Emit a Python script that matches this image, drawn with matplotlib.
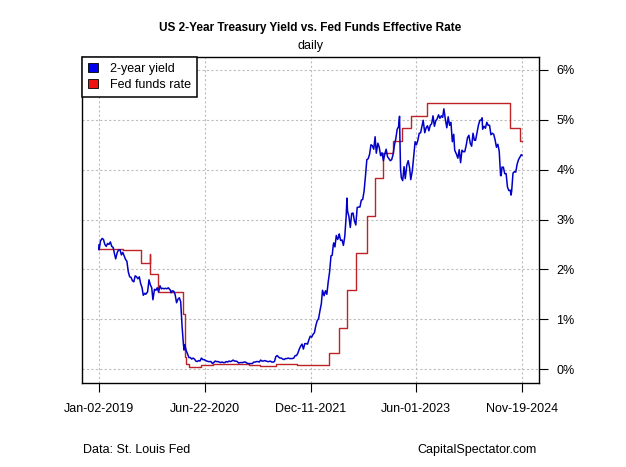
import matplotlib
matplotlib.use("Agg")
import matplotlib.pyplot as plt
import matplotlib.dates as mdates
from matplotlib.patches import Patch
import numpy as np
import pandas as pd

plt.rcParams['font.family'] = ['Liberation Sans', 'DejaVu Sans']

# ---------------- data ----------------
yield_dates = [
    "2019-01-02","2019-01-03","2019-01-10","2019-01-18","2019-01-25","2019-02-01","2019-02-08","2019-02-15",
    "2019-02-22","2019-03-01","2019-03-08","2019-03-15","2019-03-22","2019-03-28","2019-04-05","2019-04-12",
    "2019-04-19","2019-04-26","2019-05-03","2019-05-10","2019-05-17","2019-05-24","2019-05-31","2019-06-07",
    "2019-06-14","2019-06-21","2019-06-28","2019-07-05","2019-07-12","2019-07-19","2019-07-26","2019-08-02",
    "2019-08-09","2019-08-15","2019-08-23","2019-08-28","2019-09-06","2019-09-13","2019-09-20","2019-09-27",
    "2019-10-03","2019-10-11","2019-10-18","2019-10-25","2019-11-01","2019-11-08","2019-11-15","2019-11-22",
    "2019-11-29","2019-12-06","2019-12-13","2019-12-20","2019-12-31",
    "2020-01-03","2020-01-10","2020-01-17","2020-01-24","2020-01-31","2020-02-07","2020-02-14","2020-02-21",
    "2020-02-28","2020-03-06","2020-03-09","2020-03-13","2020-03-20","2020-03-27","2020-04-03","2020-04-10",
    "2020-04-17","2020-04-24","2020-05-01","2020-05-08","2020-05-15","2020-05-22","2020-05-29","2020-06-05",
    "2020-06-12","2020-06-19","2020-06-26","2020-07-03","2020-07-10","2020-07-17","2020-07-24","2020-07-31",
    "2020-08-07","2020-08-14","2020-08-21","2020-08-28","2020-09-04","2020-09-11","2020-09-18","2020-09-25",
    "2020-10-02","2020-10-09","2020-10-16","2020-10-23","2020-10-30","2020-11-06","2020-11-13","2020-11-20",
    "2020-11-27","2020-12-04","2020-12-11","2020-12-18","2020-12-31",
    "2021-01-08","2021-01-15","2021-01-22","2021-01-29","2021-02-05","2021-02-12","2021-02-19","2021-02-26",
    "2021-03-05","2021-03-12","2021-03-19","2021-03-26","2021-04-02","2021-04-09","2021-04-16","2021-04-23",
    "2021-04-30","2021-05-07","2021-05-14","2021-05-21","2021-05-28","2021-06-04","2021-06-11","2021-06-18",
    "2021-06-25","2021-07-02","2021-07-09","2021-07-16","2021-07-23","2021-07-30","2021-08-06","2021-08-13",
    "2021-08-20","2021-08-27","2021-09-03","2021-09-10","2021-09-17","2021-09-24","2021-10-01","2021-10-08",
    "2021-10-15","2021-10-22","2021-10-29","2021-11-05","2021-11-12","2021-11-19","2021-11-26","2021-12-03",
    "2021-12-10","2021-12-17","2021-12-23","2021-12-31",
    "2022-01-07","2022-01-14","2022-01-21","2022-01-28","2022-02-04","2022-02-10","2022-02-18","2022-02-25",
    "2022-03-04","2022-03-11","2022-03-18","2022-03-25","2022-03-31","2022-04-06","2022-04-08","2022-04-14",
    "2022-04-21","2022-04-28","2022-05-04","2022-05-06","2022-05-13","2022-05-20","2022-05-27","2022-06-03",
    "2022-06-10","2022-06-14","2022-06-17","2022-06-24","2022-07-01","2022-07-08","2022-07-15","2022-07-22",
    "2022-07-29","2022-08-05","2022-08-12","2022-08-19","2022-08-26","2022-09-02","2022-09-09","2022-09-16",
    "2022-09-23","2022-09-30","2022-10-07","2022-10-14","2022-10-21","2022-10-28","2022-11-04","2022-11-10",
    "2022-11-18","2022-11-25","2022-12-02","2022-12-09","2022-12-16","2022-12-23","2022-12-30",
    "2023-01-06","2023-01-13","2023-01-20","2023-01-27","2023-02-03","2023-02-10","2023-02-17","2023-02-24",
    "2023-03-03","2023-03-08","2023-03-10","2023-03-13","2023-03-17","2023-03-24","2023-03-31","2023-04-06",
    "2023-04-14","2023-04-21","2023-04-28","2023-05-04","2023-05-12","2023-05-19","2023-05-26","2023-06-02",
    "2023-06-09","2023-06-16","2023-06-23","2023-06-30","2023-07-06","2023-07-14","2023-07-21","2023-07-28",
    "2023-08-04","2023-08-11","2023-08-18","2023-08-25","2023-09-01","2023-09-08","2023-09-15","2023-09-22",
    "2023-09-29","2023-10-06","2023-10-13","2023-10-19","2023-10-27","2023-11-03","2023-11-10","2023-11-17",
    "2023-11-24","2023-12-01","2023-12-08","2023-12-13","2023-12-22","2023-12-29",
    "2024-01-05","2024-01-12","2024-01-19","2024-01-26","2024-02-02","2024-02-09","2024-02-16","2024-02-23",
    "2024-03-01","2024-03-08","2024-03-15","2024-03-22","2024-03-28","2024-04-05","2024-04-12","2024-04-19",
    "2024-04-26","2024-04-30","2024-05-03","2024-05-10","2024-05-17","2024-05-24","2024-05-31","2024-06-07",
    "2024-06-14","2024-06-21","2024-06-28","2024-07-05","2024-07-12","2024-07-19","2024-07-26","2024-08-02",
    "2024-08-05","2024-08-09","2024-08-16","2024-08-23","2024-08-30","2024-09-06","2024-09-13","2024-09-20",
    "2024-09-24","2024-09-27","2024-10-04","2024-10-11","2024-10-18","2024-10-25","2024-11-01","2024-11-08",
    "2024-11-15","2024-11-19",
]
yield_values = [
    2.49,2.39,2.57,2.62,2.60,2.50,2.46,2.52,
    2.50,2.55,2.46,2.44,2.31,2.21,2.34,2.39,
    2.39,2.29,2.34,2.27,2.20,2.16,1.95,1.85,
    1.84,1.77,1.75,1.87,1.85,1.81,1.85,1.71,
    1.63,1.48,1.52,1.50,1.55,1.79,1.69,1.63,
    1.39,1.60,1.58,1.63,1.55,1.67,1.61,1.62,
    1.61,1.62,1.61,1.63,1.58,
    1.53,1.57,1.56,1.49,1.33,1.40,1.43,1.35,
    0.86,0.49,0.38,0.49,0.37,0.30,0.23,0.23,
    0.20,0.22,0.20,0.16,0.15,0.17,0.16,0.22,
    0.19,0.19,0.17,0.16,0.15,0.15,0.15,0.11,
    0.13,0.16,0.15,0.15,0.14,0.13,0.14,0.13,
    0.13,0.15,0.14,0.16,0.15,0.16,0.18,0.16,
    0.16,0.15,0.12,0.13,0.13,
    0.14,0.14,0.12,0.11,0.11,0.11,0.11,0.14,
    0.14,0.15,0.15,0.14,0.18,0.16,0.16,0.17,
    0.16,0.15,0.15,0.16,0.14,0.14,0.15,0.25,
    0.27,0.24,0.22,0.22,0.20,0.19,0.21,0.21,
    0.22,0.21,0.21,0.21,0.22,0.27,0.27,0.32,
    0.40,0.46,0.50,0.40,0.51,0.51,0.50,0.59,
    0.66,0.64,0.69,0.73,
    0.87,0.97,1.01,1.17,1.31,1.58,1.47,1.57,
    1.50,1.75,1.95,2.27,2.28,2.50,2.53,2.45,
    2.68,2.60,2.66,2.71,2.58,2.59,2.48,2.66,
    3.06,3.43,3.17,3.06,2.84,3.12,3.13,2.97,
    2.89,3.24,3.25,3.25,3.39,3.40,3.57,3.87,
    4.20,4.22,4.31,4.50,4.48,4.41,4.66,4.33,
    4.53,4.45,4.28,4.34,4.18,4.31,4.41,
    4.26,4.22,4.18,4.20,4.30,4.49,4.62,4.81,
    4.86,5.07,4.60,4.03,3.84,3.78,4.06,3.82,
    4.09,4.18,4.04,3.80,3.98,4.28,4.56,4.50,
    4.59,4.73,4.74,4.87,4.99,4.74,4.84,4.88,
    4.78,4.89,4.92,5.08,4.87,4.98,5.02,5.10,
    5.03,5.08,5.05,5.22,5.00,4.84,5.06,4.89,
    4.95,4.56,4.71,4.39,4.31,4.23,
    4.40,4.14,4.39,4.36,4.36,4.48,4.64,4.69,
    4.53,4.47,4.73,4.59,4.59,4.75,4.90,4.99,
    5.00,5.04,4.81,4.87,4.83,4.95,4.89,4.89,
    4.70,4.73,4.71,4.60,4.45,4.51,4.37,3.88,
    3.88,4.05,4.05,3.92,3.92,3.65,3.58,3.59,
    3.49,3.56,3.93,3.96,3.95,4.11,4.20,4.25,
    4.30,4.29,
]

ff_dates = [
    "2019-01-02","2019-05-02","2019-06-20","2019-08-01","2019-09-17","2019-09-18","2019-09-19","2019-10-31",
    "2020-03-04","2020-03-16","2020-03-18","2020-04-01","2020-06-01","2020-08-01","2021-02-01","2021-04-01",
    "2021-06-17","2021-10-01","2022-01-01","2022-03-17","2022-05-05","2022-06-16","2022-07-28","2022-09-22",
    "2022-11-03","2022-12-15","2023-02-02","2023-03-23","2023-05-04","2023-07-27","2024-09-19","2024-11-08",
    "2024-11-19",
]
ff_values = [
    2.40,2.38,2.38,2.13,2.30,2.25,1.90,1.55,
    1.10,0.25,0.10,0.05,0.08,0.10,0.08,0.07,
    0.10,0.08,0.08,0.33,0.83,1.58,2.33,3.08,
    3.83,4.33,4.58,4.83,5.08,5.33,4.83,4.58,
    4.58,
]

tick_dates = ["2019-01-02","2020-06-22","2021-12-11","2023-06-01","2024-11-19"]
tick_labels = ["Jan-02-2019","Jun-22-2020","Dec-11-2021","Jun-01-2023","Nov-19-2024"]
y_ticks = [0, 1, 2, 3, 4, 5, 6]

# ---------------- plot ----------------
yd = pd.to_datetime(yield_dates)
fd = pd.to_datetime(ff_dates)
td = pd.to_datetime(tick_dates)

fig = plt.figure(figsize=(6.26, 4.67), dpi=100)
ax = fig.add_axes([82/626, 1-383/467, (539-82)/626, (383-57)/467])

blue = "#0000C8"
red = "#BE2328"

ax.plot(yd, yield_values, color=blue, lw=1.1, zorder=3)
ax.plot(fd, ff_values, color=red, lw=1.0, drawstyle="steps-post", zorder=2)

start, end = yd[0], yd[-1]
pad = pd.Timedelta(days=86)
ax.set_xlim(start - pad, end + pad)
ax.set_ylim(-0.28, 6.26)

ax.set_xticks(td)
ax.set_xticklabels(tick_labels, fontsize=9)
ax.yaxis.tick_right()
ax.set_yticks(y_ticks)
ax.set_yticklabels([f"{v}%" for v in y_ticks], fontsize=9)
ax.tick_params(axis='both', direction='out', length=6.5, width=0.8, color='black')
ax.tick_params(axis='x', pad=8)
ax.tick_params(axis='y', pad=6)

for t in td:
    ax.axvline(t, color="#bdbdbd", lw=0.8, ls=(0, (2, 2)), zorder=1)
for v in y_ticks:
    ax.axhline(v, color="#bdbdbd", lw=0.8, ls=(0, (2, 2)), zorder=1)

for s in ax.spines.values():
    s.set_linewidth(1.0)
    s.set_color("black")

handles = [Patch(facecolor="#0000EE", edgecolor="black", lw=0.6, label="2-year yield"),
           Patch(facecolor="#EE1111", edgecolor="black", lw=0.6, label="Fed funds rate")]
leg = ax.legend(handles=handles, loc="upper left", borderaxespad=0, fontsize=9,
                handlelength=0.75, handleheight=0.75, handletextpad=1.0, fancybox=False,
                framealpha=1, edgecolor="black", borderpad=0.5, labelspacing=0.3)
leg.get_frame().set_linewidth(1.1)

fig.text(310/626, 1-28/467, "US 2-Year Treasury Yield vs. Fed Funds Effective Rate",
         ha="center", va="center", fontsize=8.5, fontweight="bold")
fig.text(310/626, 1-46/467, "daily", ha="center", va="center", fontsize=9)
fig.text(83/626, 1-450/467, "Data: St. Louis Fed", ha="left", va="center", fontsize=9)
fig.text(537/626, 1-450/467, "CapitalSpectator.com", ha="right", va="center", fontsize=9)

fig.savefig("out.png", dpi=100)
